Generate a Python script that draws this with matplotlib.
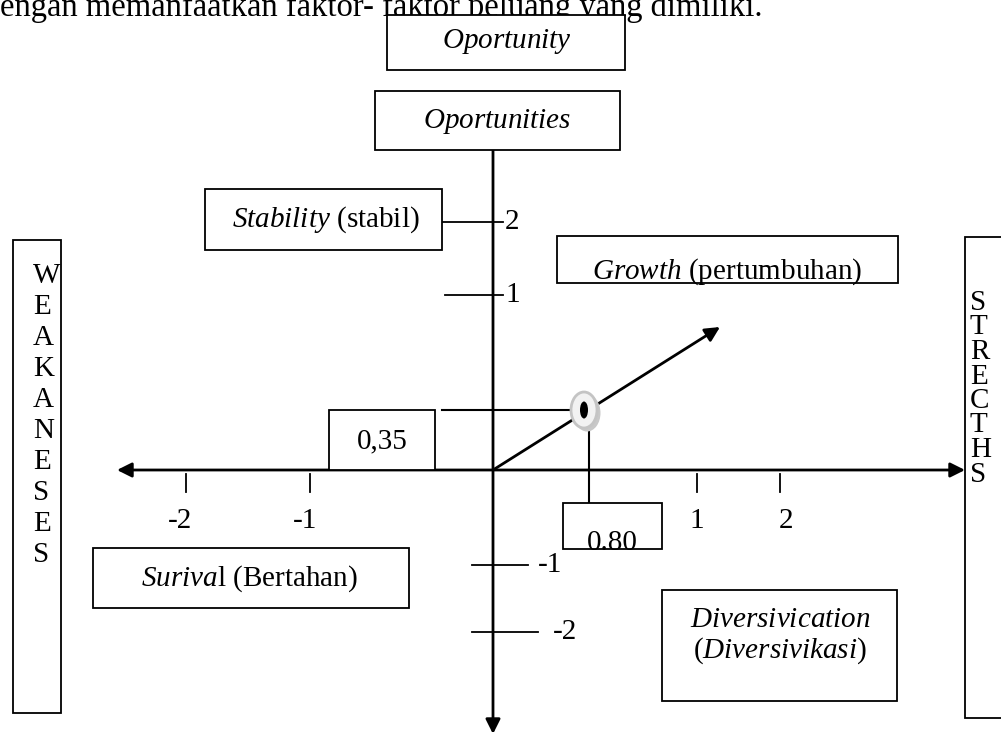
import numpy as np
import matplotlib
matplotlib.use("Agg")
import matplotlib.pyplot as plt
from matplotlib.patches import Rectangle, Ellipse

# data: strategic position (x = strengths-weaknesses, y = opportunities-threats)
x_ticks = [-2, -1, 1, 2]
y_ticks = [2, 1, -1, -2]
point_x = 0.80
point_y = 0.35
left_label = "WEAKANESES"
right_label = "STRECTHS"

plt.rcParams["font.family"] = ["Liberation Serif", "DejaVu Serif"]
plt.rcParams["mathtext.fontset"] = "custom"
plt.rcParams["mathtext.rm"] = "Liberation Serif"
plt.rcParams["mathtext.it"] = "Liberation Serif:italic"

W, H = 1001, 732
fig = plt.figure(figsize=(W / 100, H / 100), dpi=100)
ax = fig.add_axes([0, 0, 1, 1])
ax.set_xlim(0, W)
ax.set_ylim(H, 0)
ax.axis("off")

FS = 21
BLW = 1.3


def box(x0, y0, x1, y1, lw=BLW):
    r = Rectangle((x0, y0), x1 - x0, y1 - y0, facecolor="white",
                  edgecolor="black", lw=lw, zorder=3)
    ax.add_patch(r)
    return r


def arrow(tip, start, style="-|>"):
    ax.annotate("", xy=tip, xytext=start, annotation_clip=False,
                arrowprops=dict(arrowstyle=style, lw=2, color="black",
                                mutation_scale=22, shrinkA=0, shrinkB=0),
                zorder=2)


# layout positions in pixels (the diagram is not drawn to scale)
ox, oy = 493, 470
x_tick_px = [186, 310, 697, 780]
x_lab_px = [180, 305, 697, 786]
y_tick_px = [222, 295, 565, 632]
y_tick_span = [(442, 503), (445, 503), (472, 528), (472, 538)]
y_lab_px = [505, 505, 538, 553]
pt_px = (584, 410)

# clipped sentence at the very top
ax.text(0, 16, "engan memanfaatkan faktor- faktor peluang yang dimiliki.",
        fontsize=23.5, ha="left", va="baseline", zorder=1)

# top boxes
box(387, 15, 625, 70)
ax.text(507, 42, r"$\mathit{Oportunity}$", fontsize=FS, ha="center", va="center", zorder=4)
box(375, 91, 620, 150)
ax.text(497, 121, r"$\mathit{Oportunities}$", fontsize=FS, ha="center", va="center", zorder=4)

# axes
arrow((ox, 734), (ox, 150))
arrow((117, oy), (965, oy), "<|-|>")

# x ticks
for v, px, lx in zip(x_ticks, x_tick_px, x_lab_px):
    ax.plot([px, px], [474, 492], color="black", lw=1.3, zorder=2)
    ax.text(lx, 521, str(v), fontsize=FS, ha="center", va="center")

# y ticks
for v, py, (a, b), lx in zip(y_ticks, y_tick_px, y_tick_span, y_lab_px):
    ax.plot([a, b], [py, py], color="black", lw=1.3, zorder=2)
    ax.text(lx, py, str(v), fontsize=FS, ha="left", va="center")

# quadrant boxes
box(205, 189, 442, 250)
ax.text(326, 220, r"$\mathit{Stability}$ (stabil)", fontsize=FS, ha="center", va="center", zorder=4)

box(557, 236, 898, 283)
t = ax.text(727, 279, r"$\mathit{Growth}$ (pertumbuhan)", fontsize=FS, ha="center",
            va="baseline", zorder=4)
t.set_clip_path(Rectangle((557, 236), 341, 43, transform=ax.transData))

box(93, 548, 409, 608)
ax.text(249, 579, r"$\mathit{Suriva}$l (Bertahan)", fontsize=FS, ha="center", va="center", zorder=4)

box(662, 590, 897, 701)
ax.text(780, 620, r"$\mathit{Diversivication}$", fontsize=FS, ha="center", va="center", zorder=4)
ax.text(780, 651, r"$\mathit{(Diversivikasi}$)", fontsize=FS, ha="center", va="center", zorder=4)

# side boxes
box(13, 240, 61, 713)
for i, ch in enumerate(left_label):
    ax.text(33, 276 + i * 31, ch, fontsize=FS, ha="left", va="center", zorder=4)

box(965, 237, 1010, 718)
for i, ch in enumerate(right_label):
    ax.text(970, 303 + i * 24.5, ch, fontsize=FS, ha="left", va="center", zorder=4)

# position arrow
arrow((720, 327), (ox, oy))

# value callouts
box(329, 410, 435, oy)
ax.text(382, 441, f"{point_y:.2f}".replace(".", ","), fontsize=FS, ha="center", va="center", zorder=4)
ax.plot([442, pt_px[0]], [pt_px[1], pt_px[1]], color="black", lw=1.5, zorder=2)

ax.plot([589, 589], [427, 503], color="black", lw=1.5, zorder=2)
box(563, 503, 662, 549)
t = ax.text(612, 550, f"{point_x:.2f}", fontsize=FS, ha="center", va="baseline", zorder=4)
t.set_clip_path(Rectangle((563, 503), 99, 38, transform=ax.transData))

# point marker
ax.add_patch(Ellipse((pt_px[0] + 3, pt_px[1] + 3), 27, 37, facecolor="#c8c8c8",
                     edgecolor="none", zorder=5))
ax.add_patch(Ellipse(pt_px, 26, 36, facecolor="#f2f2f2", edgecolor="#c4c4c4",
                     lw=2, zorder=6))
ax.add_patch(Ellipse(pt_px, 8, 17, facecolor="black", edgecolor="none", zorder=7))

fig.savefig("out.png", dpi=100)
